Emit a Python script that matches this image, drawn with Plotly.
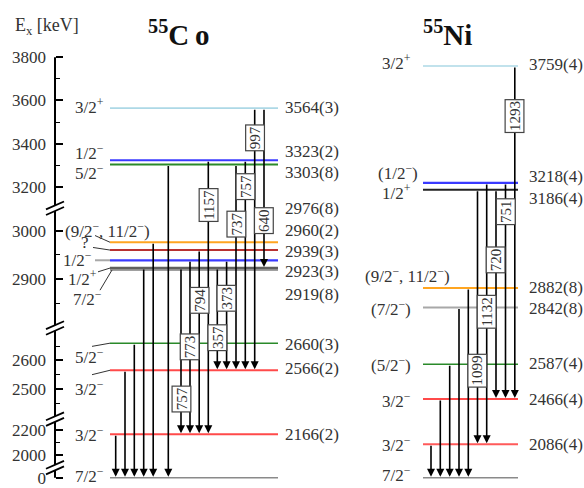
import plotly.graph_objects as go

# ---------------- data ----------------
MINUS = "\u2212"
def sp(s):
    # spin/parity text helper: "3/2+" -> 3/2<sup>+</sup>
    return s.replace("+", "<sup>+</sup>").replace("-", "<sup>" + MINUS + "</sup>")

co_energies = [0, 2166, 2566, 2660, 2919, 2923, 2939, 2960, 2976, 3303, 3323, 3564]
co_energy_text = ["", "2166(2)", "2566(2)", "2660(3)", "2919(8)", "2923(3)", "2939(3)",
                  "2960(2)", "2976(8)", "3303(8)", "3323(2)", "3564(3)"]
co_spins = ["7/2-", "3/2-", "3/2-", "5/2-", "7/2-", "1/2+", "1/2-", "?",
            "(9/2-, 11/2-)", "5/2-", "1/2-", "3/2+"]

co_from = [2166, 2566, 2660, 2923, 2976, 3303, 2923, 2939, 2960, 3323, 2923, 2939, 3303, 3323, 3564, 3564]
co_to = [0, 0, 0, 0, 0, 0, 2166, 2166, 2166, 2166, 2566, 2566, 2566, 2566, 2566, 2923]
co_gamma = ["", "", "", "", "", "", "757", "773", "794", "1157", "357", "373", "737", "757", "997", "640"]

ni_energies = [0, 2086, 2466, 2587, 2842, 2882, 3186, 3218, 3759]
ni_energy_text = ["", "2086(4)", "2466(4)", "2587(4)", "2842(8)", "2882(8)", "3186(4)", "3218(4)", "3759(4)"]
ni_spins = ["7/2-", "3/2-", "3/2-", "(5/2-)", "(7/2-)", "(9/2-, 11/2-)", "1/2+", "(1/2-)", "3/2+"]

ni_from = [2086, 2466, 2587, 2842, 2882, 3186, 3218, 3186, 3218, 3759]
ni_to = [0, 0, 0, 0, 0, 2086, 2086, 2466, 2466, 2466]
ni_gamma = ["", "", "", "", "", "1099", "1132", "720", "751", "1293"]

major_ticks = [3800, 3600, 3400, 3200, 3000, 2900, 2600, 2500, 2200, 2000, 0]
minor_ticks = [3700, 3500, 3300, 2950, 2850, 2650, 2550, 2450, 2100]

# ---------------- styles / layout ----------------
co_colors = ["#8a8a8a", "#ff4a4a", "#ff4a4a", "#2a8a2a", "#a0a0a0", "#606060", "#3a3aff",
             "#b83232", "#ffa520", "#2a8a2a", "#3a3aff", "#add8e6"]
co_widths = [1.6, 2, 2, 1.6, 2.2, 2.6, 2.2, 2, 2, 2, 2, 1.6]
ni_colors = ["#8a8a8a", "#ff5a5a", "#ff4a4a", "#2a8a2a", "#a8a8a8", "#ffa520", "#222222", "#3a3aff", "#add8e6"]
ni_widths = [1.6, 2, 2, 1.6, 2, 2, 2, 2.2, 1.6]

CO_X = (110, 278)
NI_X = (423, 518)

# broken energy axis: (E_low, E_high, E_ref, y_ref_px, px_per_keV)
SEGMENTS = [
    (3100, 3900, 3800, 57.5, 0.2175),
    (2780, 3100, 3000, 232.0, 0.49),
    (2390, 2780, 2600, 362.7, 0.29),
    (1900, 2390, 2200, 432.7, 0.1265),
    (-200, 1900, 0, 480.7, 0.1265),
]
BREAKS = [209.5, 330.0, 421.7, 470.5]

def ey(E):
    for lo, hi, eref, yref, s in SEGMENTS:
        if lo <= E <= hi:
            return yref + (eref - E) * s
    raise ValueError(E)

co_arrow_x = [115.7, 125, 134.3, 143.7, 153.2, 168.3, 181, 190, 199.2, 208.3, 217.3, 226.6, 236, 245.3, 254.7, 264]
co_box_y = [None] * 6 + [402, 349.5, 302.5, 206, 340, 300, 226, 188, 138.5, 222.5]
ni_arrow_x = [431, 440.3, 449.7, 459, 468.3, 477.5, 486.7, 496, 505.5, 514.8]
ni_box_y = [None] * 5 + [373.5, 314, 262, 213, 117]

# left labels: (anchor x, xanchor, y)
co_left_pos = [(106, "right", 478), (106, "right", 437), (106, "right", 390), (106, "right", 358),
               (104, "right", 300), (99, "right", 280), (94, "right", 261), (85, "center", 244),
               (63, "left", 231), (106, "right", 173), (106, "right", 153), (106, "right", 107)]
co_leaders = {2976: ((95, 237), "#333", 1), 2960: ((93, 249), "#333", 1),
              2939: ((95, None), "#a8a8a8", 2), 2923: ((98, 273.5), "#333", 1),
              2919: ((100, 292), "#333", 1), 2660: ((92, 348.5), "#333", 1),
              2566: ((92, 377), "#333", 1)}
co_right_y = [None, 437, 371, 347, 296, 273, 252.7, 231.7, 210, 173.5, 152, 108]

ni_left_pos = [(413, "right", 477), (413, "right", 447), (413, "right", 402), (413, "right", 366),
               (413, "right", 310), (363, "left", 277), (413, "right", 193), (420, "right", 173),
               (413, "right", 62)]
ni_right_y = [None, 447, 402, 366, 310, 289.5, 200, 178, 65]

FONT = "Liberation Serif"
TXT = "#333333"

fig = go.Figure()

# level lines
for E, c, w in zip(co_energies, co_colors, co_widths):
    fig.add_trace(go.Scatter(x=list(CO_X), y=[ey(E)] * 2, mode="lines",
                             line=dict(color=c, width=w), hoverinfo="skip", showlegend=False))
for E, c, w in zip(ni_energies, ni_colors, ni_widths):
    fig.add_trace(go.Scatter(x=list(NI_X), y=[ey(E)] * 2, mode="lines",
                             line=dict(color=c, width=w), hoverinfo="skip", showlegend=False))

ann = []
shapes = []

def text(x, y, s, size=17, xanchor="left", color=TXT):
    ann.append(dict(x=x, y=y, xref="x", yref="y", text=s, showarrow=False, xanchor=xanchor,
                    yanchor="middle", font=dict(family=FONT, size=size, color=color)))

# transitions
def transitions(xs, efrom, eto, gam, boxy):
    for x, a, b in zip(xs, efrom, eto):
        ann.append(dict(x=x, y=ey(b), ax=x, ay=ey(a), xref="x", yref="y", axref="x", ayref="y",
                        text="", showarrow=True, arrowhead=2, arrowsize=1.0, arrowwidth=1.6,
                        arrowcolor="black", standoff=1))
    for x, g, by in zip(xs, gam, boxy):
        if g:
            ann.append(dict(x=x, y=by, xref="x", yref="y", text=g, showarrow=False, textangle=-90,
                            bgcolor="white", bordercolor="#444", borderwidth=1.2, borderpad=1,
                            font=dict(family=FONT, size=15, color=TXT)))

transitions(co_arrow_x, co_from, co_to, co_gamma, co_box_y)
transitions(ni_arrow_x, ni_from, ni_to, ni_gamma, ni_box_y)

# labels Co
for E, s, (x, xa, y) in zip(co_energies, co_spins, co_left_pos):
    text(x, y, sp(s), xanchor=xa)
    if E in co_leaders:
        (lx, ly), col, w = co_leaders[E]
        ly = ey(E) if ly is None else ly
        shapes.append(dict(type="line", x0=lx, y0=ly, x1=CO_X[0] + (2 if E == 2919 else 0), y1=ey(E),
                           xref="x", yref="y", line=dict(color=col, width=w)))
for t, y in zip(co_energy_text, co_right_y):
    if t:
        text(283, y, t)

# labels Ni
for s, (x, xa, y) in zip(ni_spins, ni_left_pos):
    text(x, y, sp(s), xanchor=xa)
for t, y in zip(ni_energy_text, ni_right_y):
    if t:
        text(527, y, t)

# titles
text(146, 33, "<b><sup>55</sup>C\u2009o</b>", size=29, color="#111")
text(421, 33, "<b><sup>55</sup>Ni</b>", size=29, color="#111")
text(13, 27, "E<sub>x</sub> [keV]", size=18)

# axis line segments with breaks
AX = 55
bounds = [ey(3800)] + [v for b in BREAKS for v in (b - 2.8, b + 2.8)] + [ey(0)]
for i in range(0, len(bounds), 2):
    shapes.append(dict(type="line", x0=AX, x1=AX, y0=bounds[i], y1=bounds[i + 1], xref="x", yref="y",
                       line=dict(color="black", width=2)))
for b in BREAKS:
    for off in (-2.8, 2.8):
        shapes.append(dict(type="line", x0=AX - 9, y0=b + off + 4, x1=AX + 9, y1=b + off - 4,
                           xref="x", yref="y", line=dict(color="black", width=1.8)))

fig.update_layout(
    width=584, height=488, margin=dict(l=0, r=0, t=0, b=0),
    plot_bgcolor="white", paper_bgcolor="white", showlegend=False, hovermode=False,
    annotations=ann, shapes=shapes,
    xaxis=dict(range=[0, 584], visible=False, fixedrange=True, domain=[0, 1]),
    yaxis=dict(range=[488, 0], anchor="free", position=AX / 584, side="left",
               tickmode="array", tickvals=[ey(e) for e in major_ticks],
               ticktext=[str(e) for e in major_ticks], ticks="inside", ticklen=7, tickwidth=1.6,
               tickcolor="black", showline=False, showgrid=False, zeroline=False,
               tickfont=dict(family=FONT, size=17, color=TXT), ticklabelstandoff=9,
               ticklabeloverflow="allow",
               minor=dict(tickmode="array", tickvals=[ey(e) for e in minor_ticks], ticks="inside",
                          ticklen=4, tickwidth=1.4, tickcolor="black", showgrid=False),
               fixedrange=True),
)

fig.write_html("out.html", config={"displayModeBar": False},
               post_script="document.body.style.margin='0';document.body.style.padding='0';")
